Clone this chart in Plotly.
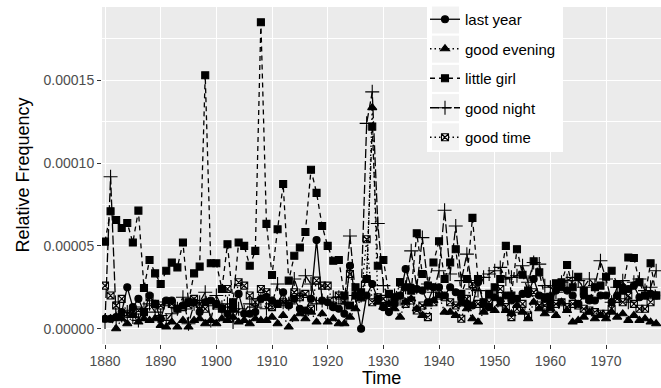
import plotly.graph_objects as go

years = list(range(1880, 1980))

# values in units of 1e-5 (relative frequency)
last_year = [0.6, 0.6, 0.7, 1.0, 2.5, 1.3, 1.8, 1.0, 2.0, 1.5,
             0.6, 1.7, 1.7, 1.2, 1.4, 1.6, 1.6, 1.0, 1.6, 1.7,
             1.5, 1.2, 0.9, 1.2, 2.1, 0.9, 0.9, 1.0, 1.8, 1.9,
             1.7, 1.5, 2.2, 1.4, 1.8, 1.2, 1.1, 1.8, 5.35, 1.7,
             1.6, 1.3, 1.2, 0.9, 3.8, 2.0, 0.0, 2.0, 2.7, 1.8,
             1.3, 1.0, 1.5, 2.0, 3.6, 2.5, 2.4, 2.3, 1.6, 2.5,
             2.5, 2.0, 2.5, 2.2, 1.8, 1.5, 1.4, 2.8, 1.5, 1.3,
             1.9, 1.7, 2.0, 1.7, 1.8, 2.1, 2.1, 3.0, 2.0, 1.8,
             1.5, 2.3, 2.5, 2.3, 2.0, 1.5, 2.0, 1.7, 1.7, 2.0,
             2.0, 1.6, 2.0, 2.5, 2.4, 2.6, 1.9, 2.0, 2.1, 2.0]

good_evening = [0.6, 0.6, 0.0, 0.6, 0.3, 0.8, 0.4, 0.6, 0.5, 0.6,
                0.2, 0.1, 0.4, 0.1, 0.5, 0.1, 0.5, 0.6, 0.3, 0.5,
                0.3, 0.6, 0.5, 0.7, 0.4, 0.5, 0.3, 0.6, 0.5, 0.5,
                0.7, 0.3, 0.8, 0.1, 0.6, 0.9, 0.6, 1.0, 0.4, 0.9,
                0.4, 0.6, 0.3, 0.3, 0.7, 1.2, 1.8, 3.0, 13.35, 1.6,
                1.3, 1.5, 1.2, 0.7, 1.6, 1.8, 1.2, 0.8, 1.5, 1.7,
                2.0, 1.0, 1.0, 0.8, 1.5, 1.2, 0.6, 0.4, 1.0, 1.3,
                1.1, 1.5, 1.1, 0.9, 1.4, 1.0, 0.6, 1.6, 1.2, 0.9,
                1.2, 0.8, 1.6, 1.1, 0.4, 0.5, 0.7, 1.0, 0.6, 0.8,
                0.6, 1.0, 0.7, 0.9, 0.5, 0.8, 0.5, 0.6, 0.4, 0.3]

little_girl = [5.26, 7.09, 6.56, 6.08, 6.38, 5.2, 7.13, 2.46, 4.15, 3.34,
               2.7, 3.5, 3.99, 3.7, 5.2, 1.6, 3.34, 3.75, 15.3, 3.95,
               3.95, 2.4, 5.1, 1.6, 5.2, 5.0, 3.8, 4.7, 18.5, 6.33,
               3.24, 6.0, 8.74, 2.9, 4.4, 4.9, 5.84, 9.6, 8.2, 6.2,
               5.0, 4.1, 4.15, 2.0, 1.4, 2.5, 2.2, 3.0, 12.2, 3.8,
               4.15, 2.1, 1.9, 2.8, 2.5, 2.3, 5.76, 3.3, 2.6, 4.0,
               5.28, 3.0, 4.0, 4.8, 2.1, 3.0, 6.69, 3.0, 1.6, 2.1,
               2.5, 3.0, 5.0, 2.0, 4.8, 3.26, 2.3, 4.07, 3.4, 1.9,
               1.93, 2.74, 2.8, 3.85, 2.5, 3.14, 2.3, 1.8, 2.5, 2.6,
               3.14, 3.5, 2.7, 2.3, 4.3, 4.27, 2.8, 2.0, 3.95, 2.0]

good_night = [0.4, 9.17, 0.6, 0.8, 1.0, 0.7, 0.5, 1.2, 1.5, 1.0,
              0.8, 0.5, 0.9, 1.2, 1.9, 0.3, 1.5, 1.6, 2.2, 0.5,
              2.0, 1.3, 1.5, 0.4, 1.2, 1.0, 1.5, 1.3, 1.8, 1.2,
              1.5, 2.7, 1.6, 1.5, 3.0, 2.0, 3.2, 2.7, 1.5, 1.7,
              1.6, 1.9, 1.9, 1.5, 5.6, 2.0, 2.0, 12.4, 14.3, 6.35,
              2.6, 1.9, 2.0, 1.8, 2.5, 4.7, 2.5, 5.5, 2.7, 2.2,
              3.5, 7.15, 3.3, 6.2, 2.9, 4.5, 2.4, 2.3, 3.1, 3.3,
              3.5, 3.7, 3.0, 3.1, 3.2, 3.8, 2.8, 4.0, 3.9, 2.6,
              2.5, 2.2, 2.8, 2.9, 3.1, 2.9, 2.5, 3.0, 2.6, 4.1,
              3.0, 1.6, 2.5, 2.9, 1.6, 2.8, 3.0, 2.3, 2.5, 3.5]

good_time = [2.6, 2.0, 1.4, 1.8, 0.9, 1.0, 1.1, 1.0, 1.9, 1.5,
             1.4, 1.6, 1.5, 1.2, 1.3, 1.4, 1.8, 1.5, 1.2, 1.6,
             1.4, 1.2, 2.4, 1.2, 2.8, 2.6, 2.0, 1.6, 2.4, 2.2,
             1.3, 1.5, 1.6, 1.5, 2.2, 1.9, 2.1, 1.2, 2.9, 2.6,
             2.6, 1.4, 2.0, 1.7, 3.3, 2.0, 2.0, 5.4, 1.6, 1.9,
             1.8, 1.4, 1.6, 2.8, 1.5, 1.7, 1.1, 1.4, 0.7, 1.6,
             2.0, 1.9, 1.6, 1.4, 0.6, 1.8, 2.7, 1.5, 1.2, 1.6,
             2.0, 2.4, 1.3, 0.7, 1.2, 1.5, 0.8, 2.2, 1.4, 1.4,
             1.2, 1.5, 1.6, 1.3, 1.5, 1.4, 1.2, 1.1, 1.0, 0.9,
             0.9, 1.2, 1.8, 1.6, 2.0, 1.5, 1.2, 1.2, 1.6, 2.0]

series_names = ["last year", "good evening", "little girl", "good night", "good time"]
x_tick_vals = list(range(1880, 1980, 10))
y_tick_vals = [0, 5e-5, 1e-4, 1.5e-4]
y_tick_text = ["0.00000", "0.00005", "0.00010", "0.00015"]

scale = 1e-5
series = [last_year, good_evening, little_girl, good_night, good_time]
styles = [
    dict(symbol="circle", size=7, dash="solid"),
    dict(symbol="triangle-up", size=8, dash="1.5px,3px"),
    dict(symbol="square", size=7, dash="5px,4px"),
    dict(symbol="cross-thin-open", size=10, dash="9px,3px"),
    dict(symbol="square-x-open", size=7, dash="1.5px,3px"),
]

W, H = 661, 388
ML, MR, MT, MB = 102, 0, 7, 44
PW, PH = W - ML - MR, H - MT - MB

def px_x(p):
    return (p - ML) / PW

def px_y(p):
    return (H - MB - p) / PH

fig = go.Figure()
for name, vals, st in zip(series_names, series, styles):
    fig.add_trace(go.Scatter(
        x=years, y=[v * scale for v in vals], name=name, mode="lines+markers",
        legendgroup=name,
        line=dict(color="black", width=1.3, dash=st["dash"]),
        marker=dict(symbol=st["symbol"], size=st["size"], color="black",
                    line=dict(color="black", width=1.1)),
    ))

ymax = max(max(s) for s in series) * scale
ymin = 0.0
pad = (ymax - ymin) * 0.05

font_family = "Liberation Sans, Arial, sans-serif"

fig.update_layout(
    width=W, height=H,
    margin=dict(l=ML, r=MR, t=MT, b=MB),
    paper_bgcolor="white", plot_bgcolor="#EBEBEB",
    font=dict(family=font_family, color="#4D4D4D", size=14),
    showlegend=True,
    legend=dict(x=px_x(425), y=px_y(3), xanchor="left", yanchor="top",
                bgcolor="rgba(0,0,0,0)", borderwidth=0,
                font=dict(size=15, color="black", family=font_family),
                tracegroupgap=7),
    xaxis=dict(range=[1879.46, 1979.87], tickvals=x_tick_vals,
               showgrid=True, gridcolor="white", gridwidth=1.2,
               zeroline=False, ticks="outside", ticklen=4, tickcolor="#333333",
               tickfont=dict(size=14, color="#4D4D4D"), showline=False),
    yaxis=dict(range=[ymin - pad, ymax + pad], tickvals=y_tick_vals, ticktext=y_tick_text,
               showgrid=True, gridcolor="white", gridwidth=1.2,
               minor=dict(dtick=2.5e-5, showgrid=True, gridcolor="white", gridwidth=0.6),
               zeroline=False, ticks="outside", ticklen=4, tickcolor="#333333",
               tickfont=dict(size=14, color="#4D4D4D"), showline=False),
)

# legend panel background and key boxes (ggplot style)
shapes = [dict(type="rect", xref="paper", yref="paper", layer="above",
               x0=px_x(427), x1=px_x(563), y0=px_y(152), y1=px_y(5),
               fillcolor="white", line=dict(width=0))]
for i in range(5):
    cy = 20 + i * 29.2
    shapes.append(dict(type="rect", xref="paper", yref="paper", layer="above",
                       x0=px_x(432), x1=px_x(459), y0=px_y(cy + 13.5), y1=px_y(cy - 13.5),
                       fillcolor="#F2F2F2", line=dict(width=0)))
fig.update_layout(shapes=shapes)

fig.add_annotation(text="Time", xref="paper", yref="paper", x=0.5, y=px_y(378),
                   xanchor="center", yanchor="middle", showarrow=False,
                   font=dict(size=18, color="black", family=font_family))
fig.add_annotation(text="Relative Frequency", xref="paper", yref="paper", x=px_x(22), y=0.5,
                   xanchor="center", yanchor="middle", showarrow=False, textangle=-90,
                   font=dict(size=18, color="black", family=font_family))

fig.write_html("out.html", config={"displayModeBar": False},
               post_script="document.body.style.margin='0';document.body.style.padding='0';")
